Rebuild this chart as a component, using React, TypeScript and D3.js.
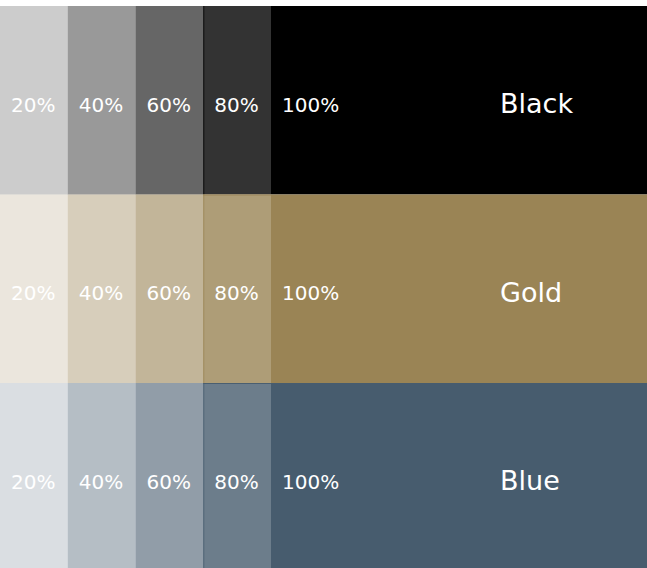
import React from "react";
import * as d3 from "d3";

const colorNames = ["Black", "Gold", "Blue"];
const baseColors = ["#000000", "#9a8455", "#475c6e"];
const shadeLevels = [0.2, 0.4, 0.6, 0.8, 1.0];
const shadeLabels = ["20%", "40%", "60%", "80%", "100%"];

const W = 647;
const H = 568;
const TOP = 6;
const ROW_H = 188.5;
const COL_W = 67.75;

export default function App() {
  const y = d3
    .scaleBand<string>()
    .domain(colorNames)
    .range([TOP, TOP + ROW_H * colorNames.length])
    .padding(0);
  const x = d3
    .scaleLinear()
    .domain([0, 1])
    .range([0, COL_W]);
  const colX = (i: number) => x(i);
  const colW = (i: number) => (i === shadeLevels.length - 1 ? W - x(i) : x(i + 1) - x(i));
  const font = "'DejaVu Sans', 'Noto Sans', sans-serif";

  return (
    <svg
      width={W}
      height={H}
      style={{ position: "absolute", left: 0, top: 0, background: "#ffffff" }}
    >
      {colorNames.map((name, r) => {
        const y0 = y(name)!;
        const h = y.bandwidth();
        return (
          <g key={name}>
            {shadeLevels.map((op, i) => (
              <rect
                key={i}
                x={colX(i)}
                y={y0}
                width={colW(i)}
                height={h}
                fill={baseColors[r]}
                fillOpacity={op}
              />
            ))}
            <line
              x1={colX(3) + 0.5}
              x2={colX(3) + 0.5}
              y1={y0}
              y2={y0 + h}
              stroke={baseColors[r]}
              strokeOpacity={0.9}
              strokeWidth={1}
            />
            {r > 0 && (
              <line
                x1={colX(3)}
                x2={colX(4)}
                y1={y0 + 0.5}
                y2={y0 + 0.5}
                stroke={baseColors[r]}
                strokeOpacity={0.9}
                strokeWidth={1}
              />
            )}
            {shadeLabels.map((lab, i) => (
              <text
                key={lab}
                x={colX(i) + 11}
                y={y0 + 105.5}
                fill="#ffffff"
                fontFamily={font}
                fontSize={20}
              >
                {lab}
              </text>
            ))}
            <text
              x={500}
              y={y0 + 107}
              fill="#ffffff"
              fontFamily={font}
              fontSize={27}
            >
              {name}
            </text>
          </g>
        );
      })}
    </svg>
  );
}
